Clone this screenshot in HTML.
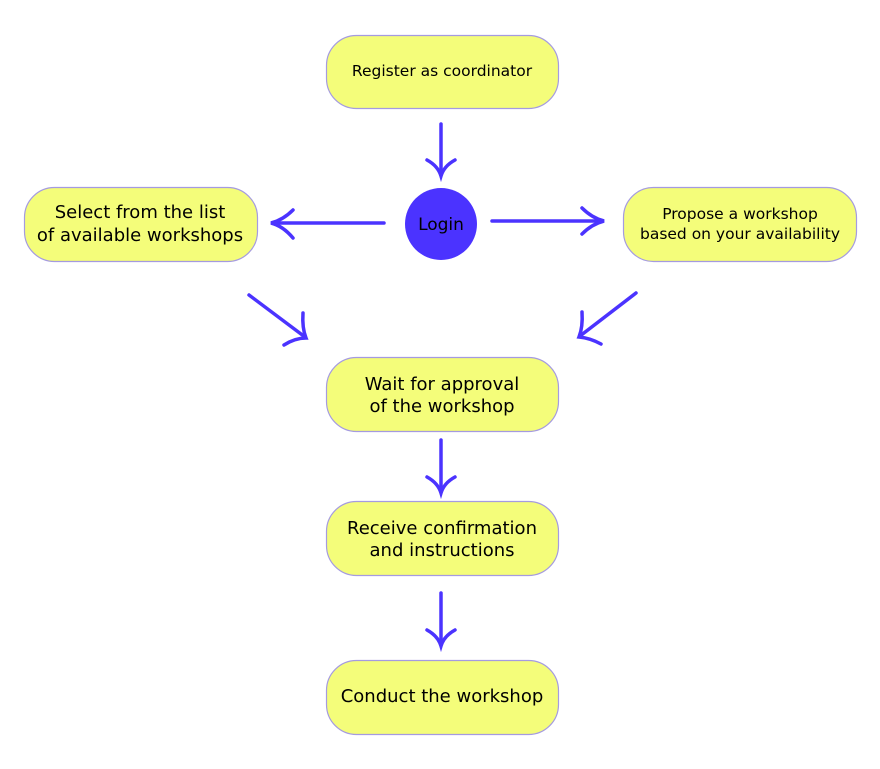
<!DOCTYPE html>
<html><head><style>
body{margin:0;background:#fff;width:880px;height:764px;overflow:hidden}
svg text{font-family:"DejaVu Sans","Liberation Sans",sans-serif;fill:#000}
</style></head><body>
<svg width="880" height="764" viewBox="0 0 880 764">
<g fill="#f4fd7a" stroke="#a59be0" stroke-width="1.2">
<rect x="326.5" y="35.5" width="232" height="73" rx="30"/>
<rect x="24.5" y="187.5" width="233" height="74" rx="30"/>
<rect x="623.5" y="187.5" width="233" height="74" rx="30"/>
<rect x="326.5" y="357.5" width="232" height="74" rx="30"/>
<rect x="326.5" y="501.5" width="232" height="74" rx="30"/>
<rect x="326.5" y="660.5" width="232" height="74" rx="30"/>
</g>
<circle cx="441" cy="224" r="36" fill="#4b33ff"/>
<g text-anchor="middle">
<text x="442" y="76" font-size="15.5">Register as coordinator</text>
<text x="140" y="218" font-size="18">Select from the list</text>
<text x="140" y="241" font-size="18">of available workshops</text>
<text x="740" y="219" font-size="15.5">Propose a workshop</text>
<text x="740" y="239" font-size="15.5">based on your availability</text>
<text x="441" y="230" font-size="17">Login</text>
<text x="442" y="390" font-size="18">Wait for approval</text>
<text x="442" y="412" font-size="18">of the workshop</text>
<text x="442" y="534" font-size="18">Receive confirmation</text>
<text x="442" y="556" font-size="18">and instructions</text>
<text x="442" y="702" font-size="18">Conduct the workshop</text>
</g>
<g fill="none" stroke="#4b33ff" stroke-width="3.5" stroke-linecap="round">
<path d="M441 124 L441 173"/><path d="M427 160 Q438 166 441 176 Q444 166 455 160"/>
<path d="M384 223 L273 223"/><path d="M293 210 Q283 220 271 223 Q283 226 293 238"/>
<path d="M492 221 L602 221"/><path d="M582 208 Q592 218 604 221 Q592 224 582 234"/>
<path d="M249 295 L305 337"/><path d="M303 313 Q302 328 306 338 Q295 338 284 345"/>
<path d="M636 293 L580 336"/><path d="M582 312 Q583 327 579 337 Q590 338 601 344"/>
<path d="M441 440 L441 490"/><path d="M427 477 Q438 483 441 493 Q444 483 455 477"/>
<path d="M441 593 L441 643"/><path d="M427 630 Q438 636 441 646 Q444 636 455 630"/>
</g>
</svg>
</body></html>
